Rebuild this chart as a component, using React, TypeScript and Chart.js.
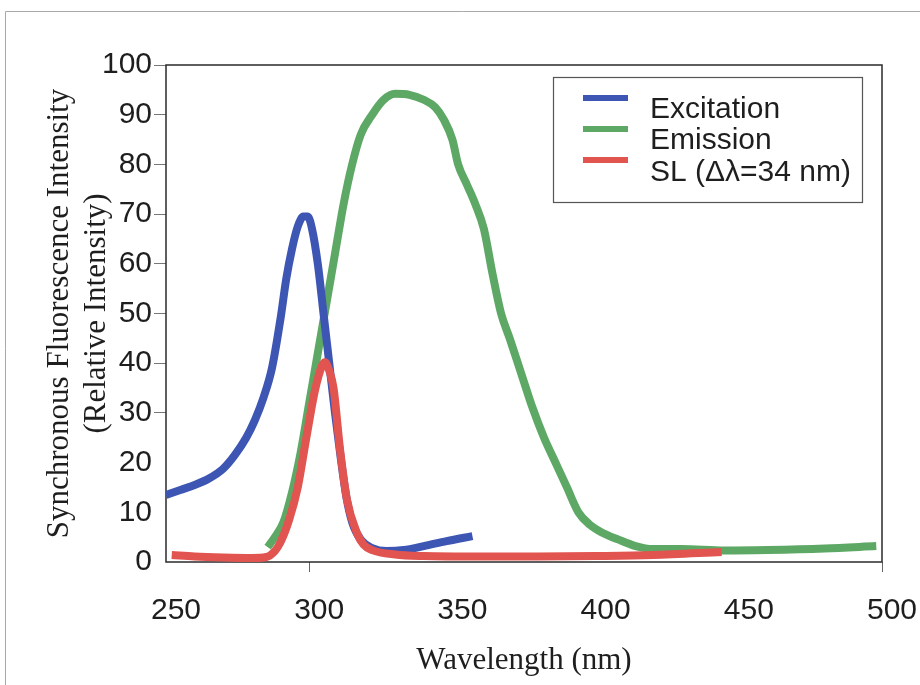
import React, { useEffect, useRef } from 'react';
import { Chart, registerables } from 'chart.js';

Chart.register(...registerables);

const seriesLabels = ['Excitation', 'Emission', 'SL (Δλ=34 nm)'];
const seriesColors = ['#3d56b3', '#5ea866', '#e25450'];
const seriesOrder = [1, 2, 0];

const excitationWavelength = [250, 255, 260, 265, 270, 274, 278, 281, 284, 287, 290, 292, 294, 296, 298, 299.5, 301, 303, 305, 307, 309, 311, 313, 315, 318, 322, 327, 333, 340, 348, 357];
const excitationIntensity = [13.5, 14.5, 15.5, 16.8, 18.8, 21.5, 25, 28.5, 33, 39, 49, 57, 63, 67.5, 69.5, 69.5, 67, 60, 50, 40, 30, 21, 13, 8, 4.5, 2.8, 2.2, 2.4, 3.2, 4.2, 5.2];

const emissionWavelength = [285.5, 288, 291, 294, 297, 300, 303, 306, 309, 312, 315, 318, 322, 326, 330, 335, 340, 344, 347, 350, 352, 355, 358, 361, 364, 367, 370, 374, 378, 382, 386, 390, 394, 398, 402, 408, 414, 420, 430, 445, 460, 480, 498];
const emissionIntensity = [3, 5, 8, 14, 22, 32, 42, 52, 62, 72, 80, 86, 90, 93, 94.2, 94, 93, 91.5, 89, 85, 80, 76, 72, 67, 58, 50, 45, 38, 31, 25, 20, 15, 10, 7.5, 6, 4.5, 3.2, 2.6, 2.6, 2.3, 2.4, 2.7, 3.2];

const slWavelength = [252, 260, 270, 280, 285, 288, 290, 293, 296, 299, 302, 304.5, 305.5, 307, 308.5, 310.8, 313.2, 316.7, 319, 322, 330, 340, 360, 380, 400, 420, 444];
const slIntensity = [1.4, 1.1, 0.9, 0.8, 1.0, 2.2, 4, 8.5, 15, 25, 34.5, 39.5, 40.2, 38.5, 35, 22.5, 12.5, 5.8, 3.5, 2.4, 1.5, 1.2, 1.1, 1.1, 1.2, 1.4, 2.0];

const xTickValues = [250, 300, 350, 400, 450, 500];
const yTickValues = [0, 10, 20, 30, 40, 50, 60, 70, 80, 90, 100];
const xTitle = 'Wavelength (nm)';
const yTitle = ['Synchronous Fluorescence Intensity', '(Relative Intensity)'];

const toPoints = (xs: number[], ys: number[]) => xs.map((x, i) => ({ x, y: ys[i] }));

const pagePlugin = {
  id: 'pageDecor',
  beforeDraw(chart: any) {
    const { ctx, width, height } = chart;
    ctx.save();
    ctx.fillStyle = '#ffffff';
    ctx.fillRect(0, 0, width, height);
    ctx.strokeStyle = '#a8a8a8';
    ctx.lineWidth = 1;
    ctx.beginPath();
    ctx.moveTo(5.5, height);
    ctx.lineTo(5.5, 11.5);
    ctx.lineTo(width, 11.5);
    ctx.stroke();
    ctx.restore();
  },
  beforeDatasetsDraw(chart: any) {
    const { ctx, chartArea } = chart;
    ctx.save();
    ctx.strokeStyle = '#2a2a2a';
    ctx.lineWidth = 1.5;
    ctx.strokeRect(chartArea.left, chartArea.top, chartArea.right - chartArea.left, chartArea.bottom - chartArea.top);
    ctx.restore();
  },
  afterDraw(chart: any) {
    const { ctx } = chart;
    ctx.save();
    ctx.strokeStyle = '#555';
    ctx.lineWidth = 1.2;
    ctx.fillStyle = '#fff';
    ctx.fillRect(553, 77, 309, 125);
    ctx.strokeRect(553.5, 77.5, 309, 125);
    ctx.font = '30px "Liberation Sans", Arial, sans-serif';
    ctx.textBaseline = 'alphabetic';
    ctx.textAlign = 'left';
    const sampleY = [98, 129, 160];
    const textY = [118, 149, 181];
    chart.data.datasets.forEach((ds: any, i: number) => {
      ctx.fillStyle = ds.borderColor;
      ctx.fillRect(583, sampleY[i] - 3, 45, 6);
      ctx.fillStyle = '#1e1e1e';
      ctx.fillText(ds.label, 650, textY[i]);
    });
    ctx.restore();
  },
};

export default function App() {
  const canvasRef = useRef<HTMLCanvasElement | null>(null);

  useEffect(() => {
    document.body.style.margin = '0';
    const canvas = canvasRef.current;
    if (!canvas) return;
    const chart = new Chart(canvas, {
      type: 'line',
      data: {
        datasets: [
          { label: seriesLabels[0], data: toPoints(excitationWavelength, excitationIntensity), borderColor: seriesColors[0], order: seriesOrder[0] },
          { label: seriesLabels[1], data: toPoints(emissionWavelength, emissionIntensity), borderColor: seriesColors[1], order: seriesOrder[1] },
          { label: seriesLabels[2], data: toPoints(slWavelength, slIntensity), borderColor: seriesColors[2], order: seriesOrder[2] },
        ].map((d) => ({
          ...d,
          borderWidth: 8,
          pointRadius: 0,
          fill: false,
          cubicInterpolationMode: 'monotone' as const,
          borderCapStyle: 'butt' as const,
          borderJoinStyle: 'round' as const,
        })),
      },
      options: {
        animation: false,
        responsive: false,
        layout: { padding: { left: 0, top: 65, right: 38, bottom: 0 } },
        plugins: { legend: { display: false }, tooltip: { enabled: false } },
        scales: {
          x: {
            type: 'linear',
            min: 250,
            max: 500,
            afterBuildTicks: (s: any) => { s.ticks = xTickValues.map((v) => ({ value: v })); },
            afterFit: (s: any) => { s.height = 123; s.paddingLeft = 0; s.paddingRight = 0; },
            border: { display: false },
            grid: {
              drawOnChartArea: false,
              drawTicks: true,
              tickLength: 10,
              color: (c: any) => (c.tick && (c.tick.value === 300 || c.tick.value === 500) ? '#666' : 'rgba(0,0,0,0)'),
            },
            ticks: {
              font: { family: '"Liberation Sans", Arial, sans-serif', size: 30, lineHeight: 1 },
              color: '#1e1e1e',
              padding: 24,
              labelOffset: 10,
              maxRotation: 0,
              autoSkip: false,
            },
            title: {
              display: true,
              text: xTitle,
              color: '#1e1e1e',
              font: { family: '"Liberation Serif", "Times New Roman", serif', size: 31, lineHeight: 1.2 },
              padding: { top: 0, bottom: 6 },
            },
          },
          y: {
            type: 'linear',
            min: 0,
            max: 100,
            afterBuildTicks: (s: any) => { s.ticks = yTickValues.map((v) => ({ value: v })); },
            afterFit: (s: any) => { s.width = 166; s.paddingTop = 0; s.paddingBottom = 0; },
            border: { display: false },
            grid: {
              drawOnChartArea: false,
              drawTicks: true,
              tickLength: 12,
              color: (c: any) => (c.tick && c.tick.value >= 30 ? '#777' : 'rgba(0,0,0,0)'),
            },
            ticks: {
              font: { family: '"Liberation Sans", Arial, sans-serif', size: 30, lineHeight: 1 },
              color: '#1e1e1e',
              padding: 2,
              autoSkip: false,
            },
            title: {
              display: true,
              text: yTitle,
              color: '#1e1e1e',
              font: { family: '"Liberation Serif", "Times New Roman", serif', size: 31, lineHeight: 1.2 },
              padding: { top: 41, bottom: 0 },
            },
          },
        },
      },
      plugins: [pagePlugin],
    });
    return () => chart.destroy();
  }, []);

  return (
    <div style={{ position: 'fixed', left: 0, top: 0, width: 920, height: 685, background: '#fff' }}>
      <canvas ref={canvasRef} width={920} height={685} style={{ display: 'block' }} />
    </div>
  );
}
